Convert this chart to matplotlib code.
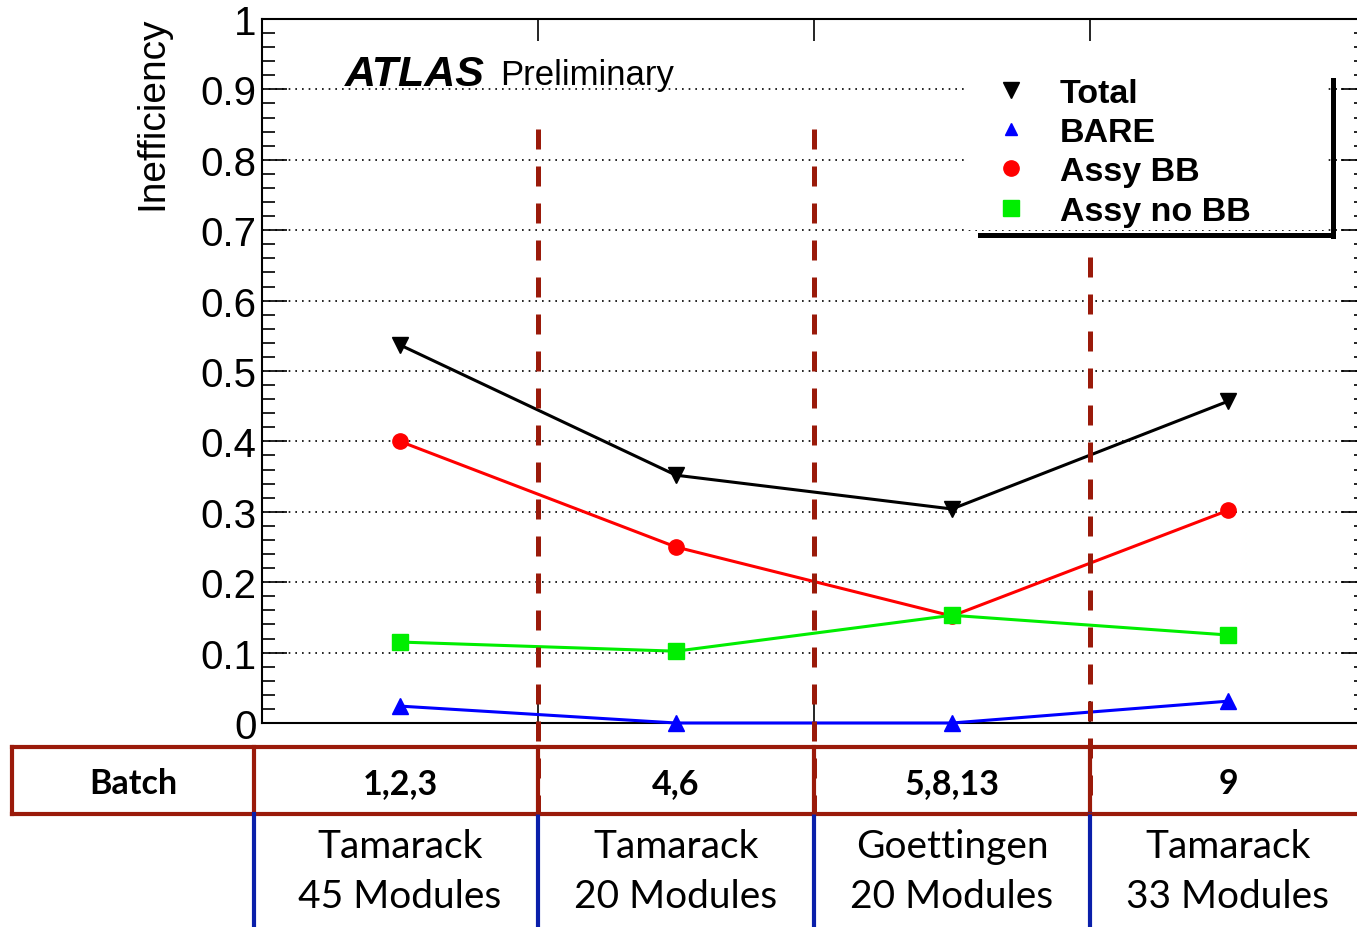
import matplotlib
matplotlib.use("Agg")
import matplotlib.pyplot as plt
from matplotlib.lines import Line2D
from matplotlib.patches import Rectangle
from matplotlib.ticker import MultipleLocator, FuncFormatter
import matplotlib.transforms as mtrans

# batches / sites
batches = ['1,2,3', '4,6', '5,8,13', '9']
sites = ['Tamarack', 'Tamarack', 'Goettingen', 'Tamarack']
modules = [45, 20, 20, 33]

# inefficiency per batch group
total = [0.537, 0.352, 0.304, 0.457]
bare = [0.024, 0.0, 0.0, 0.031]
assy_bb = [0.400, 0.250, 0.152, 0.302]
assy_nobb = [0.115, 0.102, 0.153, 0.125]

W, H = 1357, 928
fig = plt.figure(figsize=(W / 100, H / 100), dpi=100)
ax = fig.add_axes([262 / W, 1 - 724 / H, (1366 - 262) / W, (724 - 20) / H])

xc = [i + 0.5 for i in range(len(batches))]
ax.plot(xc, total, color='black', lw=2.2, marker='v', ms=11, clip_on=False, zorder=5)
ax.plot(xc, bare, color='#0000ff', lw=2.2, marker='^', ms=11, clip_on=False, zorder=5)
ax.plot(xc, assy_bb, color='#ff0000', lw=2.2, marker='o', ms=11, clip_on=False, zorder=5)
ax.plot(xc, assy_nobb, color='#00ee00', lw=2.2, marker='s', ms=11, clip_on=False, zorder=5)

ax.set_xlim(0, len(batches))
ax.set_ylim(0, 1)
ax.yaxis.set_major_locator(MultipleLocator(0.1))
ax.yaxis.set_minor_locator(MultipleLocator(0.02))
ax.yaxis.set_major_formatter(FuncFormatter(lambda v, p: '%g' % round(v, 2)))
ax.xaxis.set_major_locator(MultipleLocator(1))
ax.xaxis.set_minor_locator(plt.NullLocator())
ax.tick_params(axis='y', which='both', direction='in', left=True, right=True, width=1.2)
ax.tick_params(axis='y', which='major', length=18, labelsize=29, pad=4)
ax.tick_params(axis='y', which='minor', length=9)
ax.tick_params(axis='x', which='major', direction='in', top=True, bottom=True,
               length=16, width=1.2, labelbottom=False)
for lab in ax.get_yticklabels():
    lab.set_family('Liberation Sans')
for s in ax.spines.values():
    s.set_linewidth(1.5)
ax.yaxis.grid(True, which='major', color='black', linestyle=(0, (1, 3)), lw=1.2)

fig.text(152 / W, 1 - 16 / H, 'Inefficiency', rotation=90, ha='center', va='top',
         fontsize=28, family='Liberation Sans')

fig.text(345 / W, 1 - 75 / H, 'ATLAS', fontsize=31, family='Liberation Sans',
         weight='bold', style='italic', va='center', ha='left')
fig.text(500 / W, 1 - 76 / H, 'Preliminary', fontsize=25, family='Liberation Sans',
         va='center', ha='left')

# legend (markers only) with white box and ROOT-style shadow
fig.add_artist(Rectangle((965 / W, 1 - 231 / H), (1328 - 965) / W, (231 - 76) / H,
                         transform=fig.transFigure, facecolor='white', edgecolor='none',
                         zorder=2))
handles = [
    Line2D([], [], color='black', marker='v', ls='None', ms=11),
    Line2D([], [], color='#0000ff', marker='^', ls='None', ms=9),
    Line2D([], [], color='#ff0000', marker='o', ls='None', ms=11),
    Line2D([], [], color='#00ee00', marker='s', ls='None', ms=11),
]
leg = fig.legend(handles, ['Total', 'BARE', 'Assy BB', 'Assy no BB'],
                 loc='upper left', bbox_to_anchor=(997 / W, 1 - 79 / H),
                 frameon=False, borderpad=0, borderaxespad=0, handlelength=0.85,
                 handletextpad=1.0, labelspacing=0.24,
                 prop={'family': 'Liberation Sans', 'weight': 'bold', 'size': 24.5})
leg.set_zorder(5)
fig.add_artist(Line2D([980 / W, 1333 / W], [1 - 236 / H, 1 - 236 / H],
                      transform=fig.transFigure, color='black', lw=3.6, zorder=3))
fig.add_artist(Line2D([1333 / W, 1333 / W], [1 - 81 / H, 1 - 237 / H],
                      transform=fig.transFigure, color='black', lw=3.6, zorder=3))

# dashed batch separators, running down into the table
red = '#9a1a0a'
blue = '#0a1faa'
bt = mtrans.blended_transform_factory(ax.transData, fig.transFigure)
for edge, top in zip([1, 2, 3], [130, 130, 258]):
    fig.add_artist(Line2D([edge, edge], [1 - top / H, 1 - 815 / H], transform=bt,
                          color=red, lw=3.6, ls=(0, (4, 3.4)), zorder=6))

# table frame
ty0, ty1 = 1 - 748 / H, 1 - 815 / H
for yy in (ty0, ty1):
    fig.add_artist(Line2D([12 / W, 1], [yy, yy], transform=fig.transFigure, color=red, lw=3))
for xx in (12 / W, 254 / W):
    fig.add_artist(Line2D([xx, xx], [ty0, ty1], transform=fig.transFigure, color=red, lw=3))
for edge in [1, 2, 3]:
    fig.add_artist(Line2D([edge, edge], [ty0, ty1], transform=bt, color=red, lw=3))
    fig.add_artist(Line2D([edge, edge], [ty1, 0], transform=bt, color=blue, lw=3))
fig.add_artist(Line2D([254 / W, 254 / W], [ty1, 0], transform=fig.transFigure, color=blue, lw=3))

fig.text(133 / W, 1 - 784 / H, 'Batch', ha='center', va='center', fontsize=24.5,
         family='Lato', weight='bold')
for x, b, s, m in zip(xc, batches, sites, modules):
    fig.text(x, 1 - 784 / H, b, transform=bt, ha='center', va='center', fontsize=24.5,
             family='Lato', weight='bold')
    fig.text(x, 1 - 847 / H, s, transform=bt, ha='center', va='center', fontsize=28,
             family='Lato')
    fig.text(x, 1 - 897 / H, '%d Modules' % m, transform=bt, ha='center', va='center',
             fontsize=28, family='Lato')

fig.savefig('out.png', dpi=100)
